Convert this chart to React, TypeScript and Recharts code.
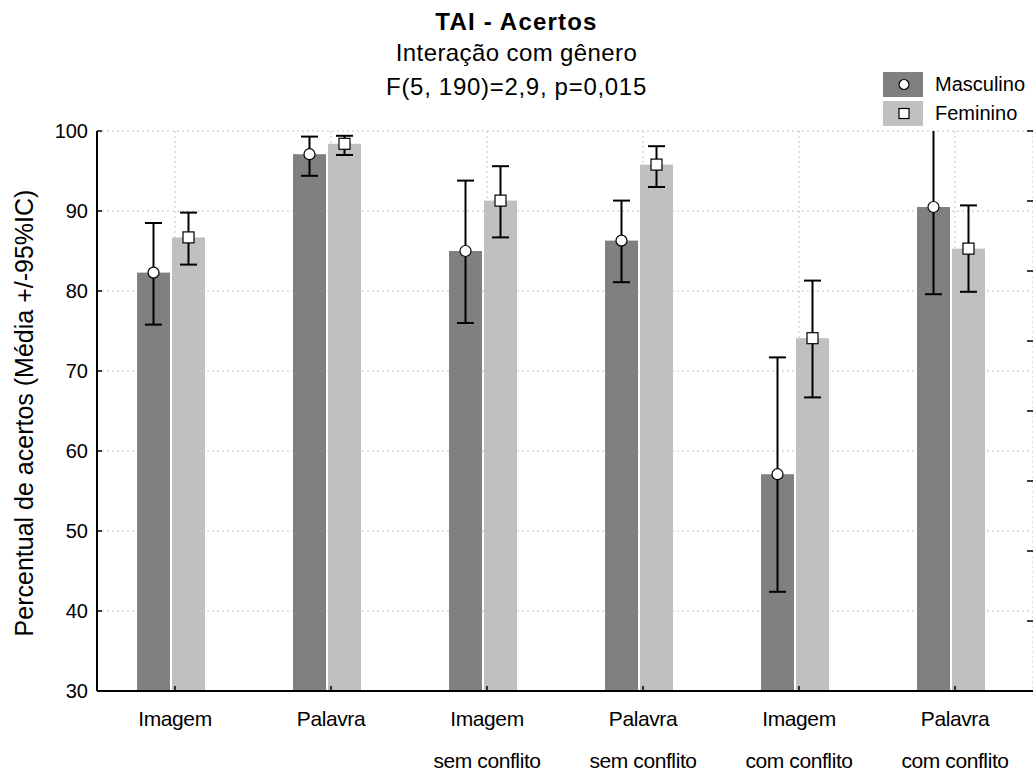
import React from 'react';
import { ComposedChart, Bar, Line, XAxis, YAxis, CartesianGrid } from 'recharts';

// categorias (duas linhas no eixo X)
const categories = ['Imagem', 'Palavra', 'Imagem sem conflito', 'Palavra sem conflito', 'Imagem com conflito', 'Palavra com conflito'];
const labelTop = ['Imagem', 'Palavra', 'Imagem', 'Palavra', 'Imagem', 'Palavra'];
const labelBottom = ['', '', 'sem conflito', 'sem conflito', 'com conflito', 'com conflito'];

// médias e IC 95%
const masculino = [82.3, 97.1, 85.0, 86.3, 57.1, 90.5];
const mascLow = [75.8, 94.4, 76.0, 81.1, 42.4, 79.6];
const mascHigh = [88.5, 99.3, 93.8, 91.3, 71.7, 101.4];
const feminino = [86.7, 98.4, 91.3, 95.8, 74.1, 85.3];
const femLow = [83.3, 97.0, 86.7, 93.0, 66.7, 79.9];
const femHigh = [89.8, 99.4, 95.6, 98.1, 81.3, 90.7];

const yTicks = [30, 40, 50, 60, 70, 80, 90, 100];
const rightTicks = [0, 1, 2, 3, 4, 5, 6, 7, 8];

const DARK = '#808080';
const LIGHT = '#c0c0c0';
const FONT = '"Liberation Sans", Arial, sans-serif';
const Y_MIN = yTicks[0];
const SHIFT = -4; // grupo de barras levemente à esquerda do tick, como no original

const data = categories.map((cat, i) => ({
  cat,
  masc: masculino[i],
  mascLo: mascLow[i],
  mascHi: mascHigh[i],
  fem: feminino[i],
  femLo: femLow[i],
  femHi: femHigh[i],
  base: rightTicks[0],
}));

// barra + IC + marcador, tudo dentro da camada recortada das barras
const makeShape = (key: string, marker: 'circle' | 'square') => (props: any) => {
  const { y, width, height, fill, payload } = props;
  const x = props.x + SHIFT;
  const v = payload[key];
  const ppu = height / (v - Y_MIN);
  const cx = x + width / 2;
  const yHi = y - (payload[key + 'Hi'] - v) * ppu;
  const yLo = y + (v - payload[key + 'Lo']) * ppu;
  const cap = 8.5;
  return (
    <g>
      <rect x={x} y={y} width={width} height={height} fill={fill} />
      <line x1={cx} y1={yHi} x2={cx} y2={yLo} stroke="#000" strokeWidth={2} />
      <line x1={cx - cap} y1={yHi} x2={cx + cap} y2={yHi} stroke="#000" strokeWidth={2} />
      <line x1={cx - cap} y1={yLo} x2={cx + cap} y2={yLo} stroke="#000" strokeWidth={2} />
      {marker === 'circle' ? (
        <circle cx={cx} cy={y} r={5.5} fill="#fff" stroke="#000" strokeWidth={1.2} />
      ) : (
        <rect x={cx - 5.5} y={y - 5.5} width={11} height={11} fill="#fff" stroke="#000" strokeWidth={1.2} />
      )}
    </g>
  );
};

const BottomTick = (props: any) => {
  const { x, y, index } = props;
  return (
    <g>
      <line x1={x} y1={y} x2={x} y2={y - 5} stroke="#000" strokeWidth={1.5} />
      <text x={x} y={y + 35} textAnchor="middle" fontSize={21} fontFamily={FONT} fill="#000" letterSpacing={-0.4}>
        {labelTop[index]}
      </text>
      <text x={x} y={y + 77} textAnchor="middle" fontSize={21} fontFamily={FONT} fill="#000" letterSpacing={-0.4}>
        {labelBottom[index]}
      </text>
    </g>
  );
};

const TopTick = (props: any) => {
  const { x, y } = props;
  return <line x1={x} y1={y} x2={x} y2={y + 5} stroke="#000" strokeWidth={1.5} />;
};

const LeftTick = (props: any) => {
  const { x, y, payload } = props;
  return (
    <g>
      <line x1={x} y1={y} x2={x + 5} y2={y} stroke="#000" strokeWidth={1.5} />
      <text x={x - 9} y={y + 7} textAnchor="end" fontSize={20} fontFamily={FONT} fill="#000">
        {payload.value}
      </text>
    </g>
  );
};

const RightTick = (props: any) => {
  const { x, y } = props;
  return <line x1={x - 6} y1={y} x2={x} y2={y} stroke="#000" strokeWidth={1.5} />;
};

const legendItems = [
  { name: 'Masculino', color: DARK, shape: 'circle' },
  { name: 'Feminino', color: LIGHT, shape: 'square' },
];

const LegendBox = () => (
  <div style={{ position: 'absolute', left: 883, top: 70, fontFamily: FONT, fontSize: 20, color: '#000' }}>
    {legendItems.map((it) => (
      <div key={it.name} style={{ display: 'flex', alignItems: 'center', height: 29 }}>
        <svg width={40} height={25} style={{ marginRight: 12 }}>
          <rect x={0} y={0} width={40} height={25} fill={it.color} />
          {it.shape === 'circle' ? (
            <circle cx={21} cy={12.5} r={5} fill="#fff" stroke="#000" strokeWidth={1.2} />
          ) : (
            <rect x={16} y={7.5} width={10} height={10} fill="#fff" stroke="#000" strokeWidth={1.2} />
          )}
        </svg>
        <span>{it.name}</span>
      </div>
    ))}
  </div>
);

export default function App() {
  return (
    <div style={{ position: 'fixed', left: 0, top: 0, width: 1033, height: 772, overflow: 'hidden', background: '#fff' }}>
      <div style={{ position: 'absolute', left: 0, top: 0, width: 1033, textAlign: 'center', fontFamily: FONT, fontSize: 24, color: '#000' }}>
        <div style={{ position: 'absolute', top: 8, width: '100%', fontWeight: 'bold', letterSpacing: 1.2 }}>TAI - Acertos</div>
        <div style={{ position: 'absolute', top: 39, width: '100%', letterSpacing: 0.4 }}>Interação com gênero</div>
        <div style={{ position: 'absolute', top: 73, width: '100%', letterSpacing: 0.7 }}>F(5, 190)=2,9, p=0,015</div>
      </div>
      <ComposedChart
        width={1036}
        height={772}
        data={data}
        margin={{ top: 131, right: 0, bottom: 0, left: 0 }}
        barSize={33}
        barGap={2}
        baseValue="dataMin"
      >
        <CartesianGrid stroke="#c4c4c4" strokeDasharray="2 3" />
        <XAxis
          dataKey="cat"
          height={81}
          axisLine={{ stroke: '#000', strokeWidth: 2 }}
          tickLine={false}
          tickSize={0}
          tickMargin={0}
          tick={<BottomTick />}
          interval={0}
        />
        <XAxis
          xAxisId="top"
          dataKey="cat"
          orientation="top"
          height={0}
          axisLine={{ stroke: '#000', strokeWidth: 2 }}
          tickLine={false}
          tickSize={0}
          tickMargin={0}
          tick={<TopTick />}
          interval={0}
        />
        <YAxis
          domain={[30, 100]}
          ticks={yTicks}
          allowDataOverflow
          width={97}
          axisLine={{ stroke: '#000', strokeWidth: 2 }}
          tickLine={false}
          tickSize={0}
          tickMargin={0}
          tick={<LeftTick />}
          label={{
            value: 'Percentual de acertos (Média +/-95%IC)',
            angle: -90,
            position: 'center',
            dx: -24,
            dy: 2,
            style: { fontFamily: FONT, fontSize: 25, fill: '#000' },
          }}
        />
        <YAxis
          yAxisId="r"
          orientation="right"
          type="number"
          domain={[0, 8]}
          ticks={rightTicks}
          interval={0}
          width={3}
          axisLine={false}
          tickLine={false}
          tickSize={0}
          tickMargin={0}
          tick={<RightTick />}
        />
        <Bar dataKey="masc" name="Masculino" fill={DARK} isAnimationActive={false} shape={makeShape('masc', 'circle')} />
        <Bar dataKey="fem" name="Feminino" fill={LIGHT} isAnimationActive={false} shape={makeShape('fem', 'square')} />
        <Line
          yAxisId="r"
          dataKey="base"
          stroke="none"
          dot={false}
          activeDot={false}
          legendType="none"
          isAnimationActive={false}
        />
      </ComposedChart>
      <LegendBox />
    </div>
  );
}
